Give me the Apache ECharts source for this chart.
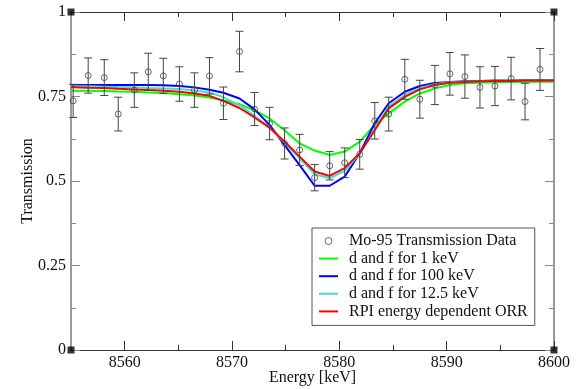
<!DOCTYPE html>
<html><head><meta charset="utf-8">
<script src="https://cdn.jsdelivr.net/npm/echarts@6/dist/echarts.min.js"></script>
<style>html,body{margin:0;padding:0;background:#fff}#c{width:578px;height:389px}</style>
</head><body><div id="c"></div>
<script>
// Measured transmission data
const energy = [8555.2, 8556.6, 8558.1, 8559.4, 8560.9, 8562.2, 8563.6, 8565.1, 8566.5, 8567.9, 8569.2, 8570.7, 8572.1, 8573.5, 8574.9, 8576.3, 8577.7, 8579.1, 8580.5, 8581.9, 8583.3, 8584.6, 8586.1, 8587.5, 8588.9, 8590.3, 8591.7, 8593.1, 8594.5, 8596.0, 8597.3, 8598.7];
const transmission = [0.737, 0.812, 0.806, 0.698, 0.769, 0.823, 0.811, 0.787, 0.769, 0.811, 0.730, 0.883, 0.713, 0.670, 0.611, 0.592, 0.510, 0.545, 0.554, 0.579, 0.678, 0.698, 0.801, 0.742, 0.784, 0.817, 0.809, 0.777, 0.781, 0.803, 0.735, 0.830];
const errors = [0.049, 0.052, 0.053, 0.050, 0.051, 0.055, 0.052, 0.051, 0.051, 0.054, 0.048, 0.060, 0.049, 0.048, 0.046, 0.046, 0.039, 0.042, 0.044, 0.044, 0.054, 0.050, 0.059, 0.056, 0.058, 0.063, 0.064, 0.061, 0.058, 0.063, 0.054, 0.062];

// Fitted curves
const curveEnergy = [8555, 8555.2, 8556.6, 8558.1, 8559.4, 8560.9, 8562.2, 8563.6, 8565.1, 8566.5, 8567.9, 8569.2, 8570.7, 8572.1, 8573.5, 8574.9, 8576.3, 8577.7, 8579.1, 8580.5, 8581.9, 8583.3, 8584.6, 8586.1, 8587.5, 8588.9, 8590.3, 8591.7, 8593.1, 8594.5, 8596.0, 8597.3, 8598.7, 8600];
const fit1keV = [0.767, 0.767, 0.767, 0.766, 0.765, 0.764, 0.762, 0.760, 0.757, 0.753, 0.747, 0.738, 0.727, 0.709, 0.685, 0.650, 0.611, 0.590, 0.577, 0.587, 0.616, 0.667, 0.700, 0.735, 0.759, 0.774, 0.784, 0.789, 0.791, 0.792, 0.793, 0.793, 0.794, 0.794];
const fit100keV = [0.784, 0.784, 0.784, 0.784, 0.784, 0.784, 0.784, 0.783, 0.781, 0.777, 0.770, 0.761, 0.744, 0.712, 0.666, 0.606, 0.547, 0.486, 0.486, 0.513, 0.582, 0.671, 0.730, 0.764, 0.781, 0.790, 0.793, 0.795, 0.796, 0.797, 0.797, 0.798, 0.798, 0.798];
const fit12keV = [0.780, 0.780, 0.780, 0.779, 0.778, 0.777, 0.775, 0.774, 0.772, 0.768, 0.762, 0.748, 0.724, 0.693, 0.658, 0.614, 0.567, 0.520, 0.508, 0.530, 0.580, 0.652, 0.720, 0.755, 0.775, 0.786, 0.792, 0.794, 0.795, 0.796, 0.797, 0.797, 0.797, 0.797];
const rpiORR = [0.777, 0.777, 0.776, 0.775, 0.773, 0.771, 0.769, 0.767, 0.764, 0.759, 0.752, 0.737, 0.716, 0.688, 0.658, 0.616, 0.572, 0.528, 0.515, 0.538, 0.582, 0.650, 0.715, 0.749, 0.771, 0.784, 0.791, 0.793, 0.795, 0.796, 0.796, 0.797, 0.797, 0.797];

// Axes
const xRange = [8555, 8600];
const yRange = [0, 1];
const xMajorTicks = [8560, 8570, 8580, 8590, 8600];
const xMinorTicks = [8565, 8575, 8585, 8595];
const seriesNames = ['Mo-95 Transmission Data', 'd and f for 1 keV', 'd and f for 100 keV', 'd and f for 12.5 keV', 'RPI energy dependent ORR'];

const FONT = 'Liberation Serif';
const chart = echarts.init(document.getElementById('c'), null, {renderer: 'canvas'});

function xAx(pos, ticks, len, showLine, label, extra) {
  return Object.assign({
    type: 'value', position: pos, min: xRange[0], max: xRange[1],
    axisLine: {show: showLine, onZero: false, lineStyle: {color: '#333', width: 1}},
    axisTick: {show: true, inside: true, length: len, customValues: ticks, lineStyle: {color: '#333'}},
    axisLabel: label ? {show: true, customValues: ticks, fontFamily: FONT, fontSize: 16, color: '#111', margin: 5,
      formatter: v => String(v)} : {show: false},
    splitLine: {show: false}
  }, extra || {});
}
function yAx(pos, label, extra) {
  return Object.assign({
    type: 'value', position: pos, min: yRange[0], max: yRange[1], interval: 0.25,
    axisLine: {show: true, onZero: false, lineStyle: {color: '#999', width: 2}},
    axisTick: {show: true, inside: true, length: 9, lineStyle: {color: '#888'}},
    minorTick: {show: true, splitNumber: 2, length: 5, lineStyle: {color: '#888'}},
    axisLabel: label ? {show: true, fontFamily: FONT, fontSize: 16, color: '#111', margin: 5,
      formatter: v => String(v)} : {show: false},
    splitLine: {show: false}
  }, extra || {});
}

const lineSeries = (name, data, color) => ({
  name, type: 'line', xAxisIndex: 0, yAxisIndex: 0,
  data: curveEnergy.map((e, i) => [e, data[i]]),
  symbol: 'none', lineStyle: {color, width: 2}, itemStyle: {color}, z: 3, animation: false
});
const legendLine = name => ({name, itemStyle: {opacity: 0, borderWidth: 0}});

chart.setOption({
  animation: false,
  grid: {left: 71, right: 24, top: 12, bottom: 39, containLabel: false, outerBoundsMode: 'none'},
  xAxis: [
    xAx('bottom', xMajorTicks, 9, true, true, {name: 'Energy [keV]', nameLocation: 'middle', nameGap: 20,
      nameMoveOverlap: false, nameTextStyle: {fontFamily: FONT, fontSize: 16, color: '#111'}}),
    xAx('top', xMajorTicks, 9, true, false),
    xAx('bottom', xMinorTicks, 5, false, false),
    xAx('top', xMinorTicks, 5, false, false)
  ],
  yAxis: [
    yAx('left', true, {name: 'Transmission', nameLocation: 'middle', nameGap: 35,
      nameMoveOverlap: false, nameTextStyle: {fontFamily: FONT, fontSize: 16, color: '#111'}}),
    yAx('right', false)
  ],
  legend: {
    orient: 'vertical', left: 312, top: 228,
    padding: [5, 7, 6, 6], itemWidth: 19, itemHeight: 7, itemGap: 1.6,
    borderColor: '#555', borderWidth: 1, backgroundColor: '#fff',
    textStyle: {fontFamily: FONT, fontSize: 16, color: '#111', lineHeight: 16, padding: [0, 0, 0, 6]},
    data: [
      {name: seriesNames[0], icon: 'circle', itemStyle: {color: 'rgba(0,0,0,0)', borderColor: '#444', borderWidth: 1}},
      legendLine(seriesNames[1]), legendLine(seriesNames[2]), legendLine(seriesNames[3]), legendLine(seriesNames[4])
    ]
  },
  series: [
    lineSeries(seriesNames[1], fit1keV, '#00ff00'),
    lineSeries(seriesNames[2], fit100keV, '#0000ff'),
    lineSeries(seriesNames[3], fit12keV, '#40e0d0'),
    lineSeries(seriesNames[4], rpiORR, '#ff0000'),
    {
      name: 'errors', type: 'custom', xAxisIndex: 0, yAxisIndex: 0, z: 4,
      data: energy.map((e, i) => [e, transmission[i] - errors[i], transmission[i] + errors[i]]),
      encode: {x: 0, y: [1, 2]},
      renderItem: function (params, api) {
        const x = api.value(0);
        const top = api.coord([x, api.value(2)]);
        const bot = api.coord([x, api.value(1)]);
        const w = 4;
        const st = {stroke: '#444', lineWidth: 1};
        return {type: 'group', children: [
          {type: 'line', shape: {x1: top[0], y1: top[1], x2: bot[0], y2: bot[1]}, style: st},
          {type: 'line', shape: {x1: top[0] - w, y1: top[1], x2: top[0] + w, y2: top[1]}, style: st},
          {type: 'line', shape: {x1: bot[0] - w, y1: bot[1], x2: bot[0] + w, y2: bot[1]}, style: st}
        ]};
      },
      animation: false
    },
    {
      name: seriesNames[0], type: 'scatter', xAxisIndex: 0, yAxisIndex: 0, z: 5,
      data: energy.map((e, i) => [e, transmission[i]]),
      symbol: 'circle', symbolSize: 6,
      itemStyle: {color: 'rgba(0,0,0,0)', borderColor: '#444', borderWidth: 1},
      animation: false
    },
    {
      name: 'corners', type: 'scatter', xAxisIndex: 0, yAxisIndex: 0, z: 6, silent: true,
      data: [[xRange[0], yRange[0]], [xRange[0], yRange[1]], [xRange[1], yRange[0]], [xRange[1], yRange[1]]],
      symbol: 'rect', symbolSize: 7, itemStyle: {color: '#000'}, animation: false
    }
  ]
});
</script></body></html>
